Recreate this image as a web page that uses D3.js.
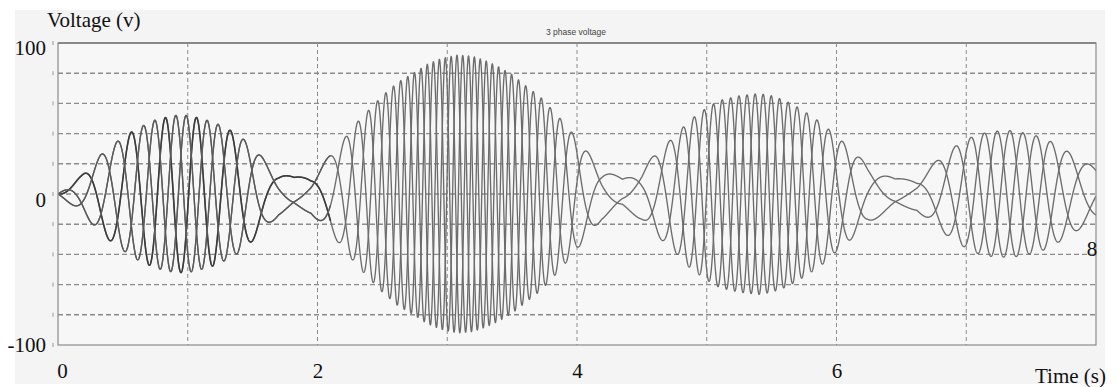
<!DOCTYPE html>
<html>
<head>
<meta charset="utf-8">
<script src="https://cdn.jsdelivr.net/npm/d3@7"></script>
<style>
  html, body { margin: 0; padding: 0; background: #fff; }
  svg { display: block; }
  .lbl { font-family: "Liberation Serif", "Times New Roman", serif; font-size: 21px; fill: #111; }
</style>
</head>
<body>
<div id="chart"></div>
<script>
// envelope of the 3-phase signal: time (s), peak voltage (V), frequency (Hz)
const envTime = [0, 0.18, 0.33, 0.46, 0.6, 0.75, 0.9, 1.0, 1.1, 1.2, 1.3, 1.4, 1.5, 1.6, 1.7, 1.82, 1.95, 2.08, 2.2, 2.3, 2.4, 2.5, 2.62, 2.74, 2.85, 2.95, 3.08, 3.2, 3.3, 3.4, 3.5, 3.6, 3.72, 3.86, 3.95, 4.06, 4.19, 4.35, 4.5, 4.62, 4.75, 4.87, 5.0, 5.1, 5.25, 5.4, 5.5, 5.6, 5.7, 5.8, 5.9, 6.0, 6.1, 6.24, 6.45, 6.62, 6.8, 6.93, 7.07, 7.2, 7.35, 7.5, 7.6, 7.7, 7.86, 8.0];
const envAmp = [0, 12, 26, 35, 43, 49, 52, 52, 50, 47.5, 43.5, 38.5, 31, 22, 14.5, 11, 13, 24, 36, 47, 56, 65, 74, 80, 86, 89.5, 92, 91, 88, 84, 79, 72, 64, 51, 42, 30, 17, 10, 17, 28, 38, 49, 57, 62, 65, 66.5, 65, 62, 57.5, 52, 46, 38, 31, 19, 10, 11, 24, 32.5, 39, 41.5, 42, 39.5, 37, 32.5, 24, 17];
const envFreq = [1.0, 2.0, 2.4, 2.9, 3.5, 4.0, 4.2, 4.2, 4.1, 3.9, 3.5, 3.1, 2.5, 1.8, 1.2, 0.9, 1.1, 1.9, 2.9, 3.8, 4.5, 5.3, 6.0, 6.5, 7.0, 7.3, 7.5, 7.4, 7.2, 6.8, 6.4, 5.9, 5.2, 4.1, 3.4, 2.4, 1.4, 0.8, 1.4, 2.3, 3.1, 4.0, 4.6, 5.0, 5.3, 5.4, 5.3, 5.0, 4.7, 4.2, 3.7, 3.1, 2.5, 1.5, 0.8, 0.9, 2.0, 2.6, 3.2, 3.4, 3.4, 3.2, 3.0, 2.6, 2.0, 1.4];
const phaseShift = [0, -120, 120]; // degrees
const startPhase = -0.13; // rad

const yTicks = [-100, 0, 100];
const xTicks = [0, 2, 4, 6];
const xGrid = [1, 2, 3, 4, 5, 6, 7];
const yGrid = [-80, -60, -40, -20, 0, 20, 40, 60, 80];

const W = 1119, H = 387;
const margin = { top: 43, right: 23, bottom: 42, left: 58 };
const innerW = W - margin.left - margin.right;
const innerH = H - margin.top - margin.bottom;

const svg = d3.select("#chart").append("svg").attr("width", W).attr("height", H);

// page backdrop
svg.append("rect").attr("x", 15).attr("y", 10).attr("width", 1090).attr("height", 374).attr("fill", "#f4f4f4");

const x = d3.scaleLinear().domain([0, 8]).range([0, innerW]);
const y = d3.scaleLinear().domain([-100, 100]).range([innerH, 0]);

const g = svg.append("g").attr("transform", `translate(${margin.left},${margin.top})`);

g.append("rect").attr("width", innerW).attr("height", innerH).attr("fill", "#f7f7f7");

// grid
g.append("g")
  .selectAll("line")
  .data(yGrid)
  .join("line")
  .attr("x1", 0)
  .attr("x2", innerW)
  .attr("y1", (d) => y(d))
  .attr("y2", (d) => y(d))
  .attr("stroke", "#8c8c8c")
  .attr("stroke-width", 1.4)
  .attr("stroke-dasharray", "5 3");

g.append("g")
  .selectAll("line")
  .data(xGrid)
  .join("line")
  .attr("x1", (d) => x(d))
  .attr("x2", (d) => x(d))
  .attr("y1", 0)
  .attr("y2", innerH)
  .attr("stroke", "#8c8c8c")
  .attr("stroke-width", 1)
  .attr("stroke-dasharray", "4 3");

// small marks left of the frame
g.append("g")
  .selectAll("line")
  .data(yGrid.concat([-100, 100]))
  .join("line")
  .attr("x1", -5)
  .attr("x2", -5)
  .attr("y1", (d) => y(d) - 2)
  .attr("y2", (d) => y(d) + 2)
  .attr("stroke", "#999")
  .attr("stroke-width", 1);

// signal
const ampAt = d3.scaleLinear().domain(envTime).range(envAmp).clamp(true);
const freqAt = d3.scaleLinear().domain(envTime).range(envFreq).clamp(true);
const dt = 0.001;
const samples = [];
let theta = startPhase;
for (let t = 0; t <= 8 + 1e-9; t += dt) {
  samples.push({ t, a: ampAt(t), th: theta });
  theta += 2 * Math.PI * freqAt(t + dt / 2) * dt;
}

const line = d3.line().x((d) => x(d[0])).y((d) => y(d[1]));

g.append("defs").append("clipPath").attr("id", "clip").append("rect").attr("width", innerW).attr("height", innerH);
const wave = g.append("g").attr("clip-path", "url(#clip)");

phaseShift.forEach((deg, i) => {
  const rad = (deg * Math.PI) / 180;
  const pts = samples.map((s) => [s.t, s.a * Math.sin(s.th + rad)]);
  wave.append("path")
    .attr("d", line(pts))
    .attr("fill", "none")
    .attr("stroke", "#6c6c6c")
    .attr("stroke-width", 1.35);
  // first burst is a little darker in the original
  wave.append("path")
    .attr("d", line(pts.filter((p) => p[0] <= 2.1)))
    .attr("fill", "none")
    .attr("stroke", i === 0 ? "#3c3c3c" : "#5a5a5a")
    .attr("stroke-width", i === 0 ? 1.6 : 1.35);
});

// frame
g.append("rect").attr("width", innerW).attr("height", innerH).attr("fill", "none").attr("stroke", "#8a8a8a").attr("stroke-width", 1.2);
g.append("line").attr("x1", 0).attr("x2", innerW).attr("y1", 0).attr("y2", 0).attr("stroke", "#888").attr("stroke-width", 2);

// axes labels
const fmt = (d) => String(d);
const yAxis = g.append("g")
  .call(d3.axisLeft(y).tickValues(yTicks).tickSize(0).tickPadding(12).tickFormat(fmt));
yAxis.select(".domain").remove();
yAxis.selectAll("text").attr("class", "lbl").attr("font-family", null).attr("font-size", null)
  .attr("dy", (d) => (d === -100 ? "0.32em" : d === 0 ? "0.58em" : "0.55em"));

const xAxis = g.append("g").attr("transform", `translate(0,${innerH})`)
  .call(d3.axisBottom(x).tickValues(xTicks).tickSize(0).tickPadding(18).tickFormat(fmt));
xAxis.select(".domain").remove();
xAxis.selectAll("text").attr("class", "lbl").attr("font-family", null).attr("font-size", null)
  .attr("dx", (d) => (d === 0 ? 4 : 0));

g.append("text").attr("class", "lbl").attr("x", x(8) - 4).attr("y", y(-36)).attr("dy", "0.35em")
  .attr("text-anchor", "middle").text("8");

svg.append("text").attr("class", "lbl").attr("x", 47).attr("y", 27).text("Voltage (v)");
svg.append("text").attr("class", "lbl").attr("x", 1106).attr("y", 383).attr("text-anchor", "end").text("Time (s)");
svg.append("text").attr("x", 576).attr("y", 35).attr("text-anchor", "middle")
  .attr("font-family", "Liberation Sans, Arial, sans-serif").attr("font-size", 8.5).attr("fill", "#444")
  .text("3 phase voltage");
</script>
</body>
</html>
